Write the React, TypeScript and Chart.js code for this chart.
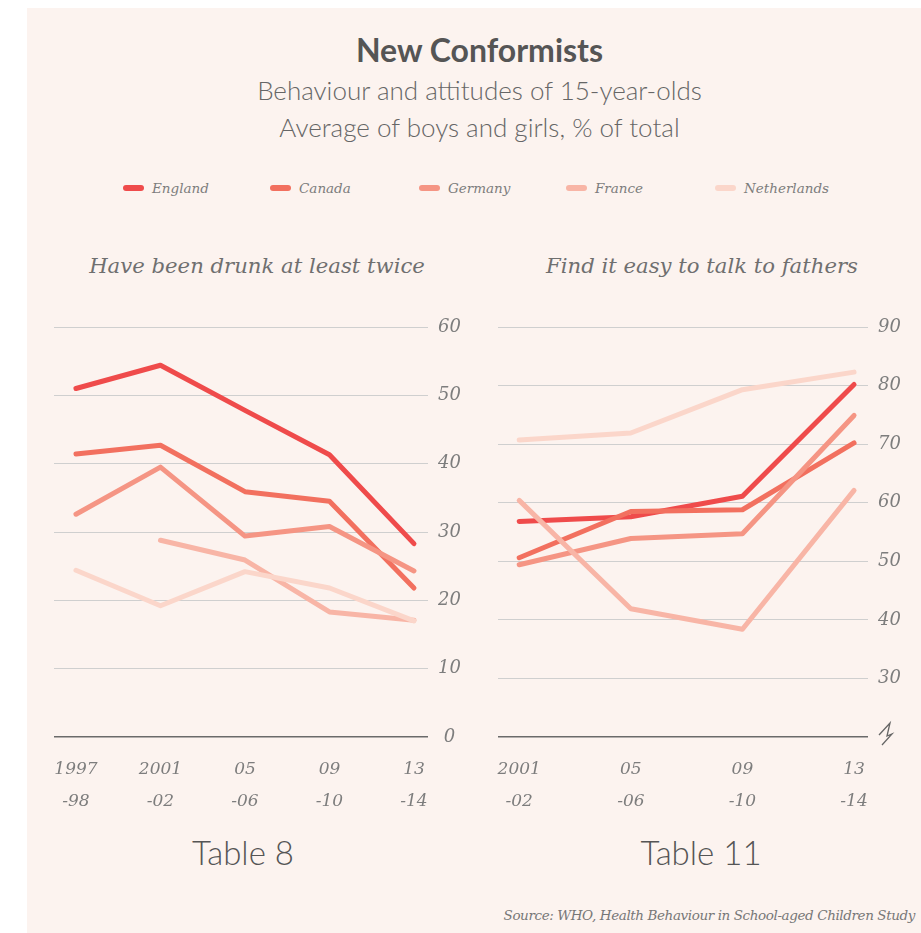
import React, { useEffect, useRef } from 'react';
import { Chart, registerables } from 'chart.js';

Chart.register(...registerables);

// ---------- data ----------
const seriesNames = ['England', 'Canada', 'Germany', 'France', 'Netherlands'];
const seriesColors = ['#ef4b4b', '#f2705f', '#f59584', '#f8b5a6', '#fbd6ca'];

// Table 8: Have been drunk at least twice (%)
const drunkLabels = [['1997', '-98'], ['2001', '-02'], ['05', '-06'], ['09', '-10'], ['13', '-14']];
const drunkEngland = [51.0, 54.4, 47.8, 41.3, 28.3];
const drunkCanada = [41.4, 42.7, 35.9, 34.5, 21.8];
const drunkGermany = [32.6, 39.5, 29.4, 30.8, 24.3];
const drunkFrance = [null, 28.8, 25.9, 18.3, 17.1];
const drunkNetherlands = [24.4, 19.2, 24.2, 21.8, 17.0];
const drunkTicks = [0, 10, 20, 30, 40, 50, 60];

// Table 11: Find it easy to talk to fathers (%)
const fathersLabels = [['2001', '-02'], ['05', '-06'], ['09', '-10'], ['13', '-14']];
const fathersEngland = [56.8, 57.6, 61.1, 80.2];
const fathersCanada = [50.6, 58.5, 58.8, 70.2];
const fathersGermany = [49.4, 53.9, 54.7, 74.9];
const fathersFrance = [60.4, 41.9, 38.4, 62.1];
const fathersNetherlands = [70.7, 71.9, 79.3, 82.3];
const fathersTicks = [20, 30, 40, 50, 60, 70, 80, 90];

const LABEL_FONT = '"DejaVu Serif", serif';
const SANS_FONT = 'Lato, "Open Sans", sans-serif';
const LABEL_COLOR = '#7d7d7d';

type PanelProps = {
  labels: string[][];
  series: (number | null)[][];
  yTicks: number[];
  xMin: number;
  xMax: number;
  axisWidth: number;
  breakAtMin: boolean;
  width: number;
  height: number;
};

function LinePanel(props: PanelProps) {
  const ref = useRef<HTMLCanvasElement | null>(null);
  useEffect(() => {
    const canvas = ref.current;
    if (!canvas) return;
    const { labels, series, yTicks, xMin, xMax, axisWidth, breakAtMin } = props;
    const yMin = yTicks[0];
    const yMax = yTicks[yTicks.length - 1];

    const breakPlugin = {
      id: 'axisBreak',
      afterDraw(chart: any) {
        if (!breakAtMin) return;
        const c = chart.ctx;
        const y = chart.scales.y.getPixelForValue(yMin);
        const x = chart.chartArea.right + 11;
        c.save();
        c.strokeStyle = '#666';
        c.lineWidth = 1.3;
        c.lineJoin = 'miter';
        c.beginPath();
        c.moveTo(x, y - 2);
        c.lineTo(x + 11, y - 14);
        c.lineTo(x + 8, y - 1);
        c.lineTo(x + 13, y - 3);
        c.lineTo(x + 3, y + 8);
        c.stroke();
        c.restore();
      },
    };

    const chart = new Chart(canvas, {
      type: 'line',
      data: {
        datasets: series.map((vals, i) => ({
          label: seriesNames[i],
          data: vals.map((v, j) => ({ x: j, y: v })),
          borderColor: seriesColors[i],
          backgroundColor: seriesColors[i],
          borderWidth: 5,
          borderCapStyle: 'round',
          borderJoinStyle: 'round',
          pointRadius: 0,
          pointHoverRadius: 0,
          tension: 0,
          spanGaps: false,
          order: series.length - 1 - i,
        })),
      },
      options: {
        animation: false,
        responsive: false,
        maintainAspectRatio: false,
        layout: { padding: { left: 14, top: 17, right: 0, bottom: 0 } },
        plugins: { legend: { display: false }, tooltip: { enabled: false } },
        scales: {
          x: {
            type: 'linear',
            min: xMin,
            max: xMax,
            grid: { display: false, drawTicks: false },
            border: { display: false },
            afterBuildTicks: (s: any) => {
              s.ticks = labels.map((_, i) => ({ value: i }));
            },
            afterFit: (s: any) => {
              s.height = 80;
              s.paddingLeft = 0;
              s.paddingRight = 0;
            },
            ticks: {
              autoSkip: false,
              maxRotation: 0,
              minRotation: 0,
              padding: 17,
              color: LABEL_COLOR,
              font: { family: LABEL_FONT, style: 'italic', size: 17, lineHeight: '32px' },
              callback: (v: any) => labels[Math.round(v)] ?? '',
            },
          },
          y: {
            position: 'right',
            min: yMin,
            max: yMax,
            afterBuildTicks: (s: any) => {
              s.ticks = yTicks.map((v) => ({ value: v }));
            },
            afterFit: (s: any) => {
              s.width = axisWidth;
              s.paddingTop = 0;
              s.paddingBottom = 0;
            },
            grid: {
              drawTicks: false,
              color: (ctx: any) => (ctx.tick && ctx.tick.value === yMin ? '#6a6a6a' : '#cfcfcf'),
              lineWidth: (ctx: any) => (ctx.tick && ctx.tick.value === yMin ? 1.5 : 1),
            },
            border: { display: false },
            ticks: {
              padding: 10,
              crossAlign: 'center',
              color: LABEL_COLOR,
              font: { family: LABEL_FONT, style: 'italic', size: 18 },
              callback: (v: any) => (breakAtMin && v === yMin ? '' : String(v)),
            },
          },
        },
      },
      plugins: [breakPlugin],
    } as any);
    return () => chart.destroy();
  }, []);
  return (
    <canvas
      ref={ref}
      width={props.width}
      height={props.height}
      style={{ width: props.width, height: props.height, display: 'block' }}
    />
  );
}

function Text(p: { x: number; y: number; align: 'center' | 'left' | 'right'; style: React.CSSProperties; children: React.ReactNode }) {
  const w = 700;
  const left = p.align === 'center' ? p.x - w / 2 : p.align === 'left' ? p.x : p.x - w;
  return (
    <div
      style={{
        position: 'absolute',
        left,
        top: p.y - 20,
        width: w,
        height: 40,
        lineHeight: '40px',
        textAlign: p.align,
        whiteSpace: 'nowrap',
        ...p.style,
      }}
    >
      {p.children}
    </div>
  );
}

const legendX = [123, 270, 419, 566, 715];

export default function App() {
  return (
    <div style={{ position: 'absolute', left: 0, top: 0, width: 921, height: 933, background: '#ffffff', overflow: 'hidden' }}>
      <div style={{ position: 'absolute', left: 27, top: 8, width: 894, height: 925, background: '#fcf3ef' }} />
      <Text x={479.5} y={50} align="center" style={{ fontFamily: SANS_FONT, fontWeight: 700, fontSize: 32, color: '#555' }}>
        New Conformists
      </Text>
      <Text x={479.5} y={90} align="center" style={{ fontFamily: SANS_FONT, fontWeight: 300, fontSize: 26, color: '#666' }}>
        Behaviour and attitudes of 15-year-olds
      </Text>
      <Text x={479.5} y={127} align="center" style={{ fontFamily: SANS_FONT, fontWeight: 300, fontSize: 26, color: '#666' }}>
        Average of boys and girls, % of total
      </Text>

      {seriesNames.map((name, i) => (
        <React.Fragment key={name}>
          <div
            style={{
              position: 'absolute',
              left: legendX[i],
              top: 185,
              width: 21,
              height: 6,
              borderRadius: 3,
              background: seriesColors[i],
            }}
          />
          <Text x={legendX[i] + 29} y={188} align="left" style={{ fontFamily: LABEL_FONT, fontStyle: 'italic', fontSize: 13.5, color: LABEL_COLOR }}>
            {name}
          </Text>
        </React.Fragment>
      ))}

      <Text x={257} y={266} align="center" style={{ fontFamily: LABEL_FONT, fontStyle: 'italic', fontSize: 21.2, color: '#6f6f6f' }}>
        Have been drunk at least twice
      </Text>
      <Text x={702} y={266} align="center" style={{ fontFamily: LABEL_FONT, fontStyle: 'italic', fontSize: 21.2, color: '#6f6f6f' }}>
        Find it easy to talk to fathers
      </Text>

      <div style={{ position: 'absolute', left: 40, top: 310 }}>
        <LinePanel
          labels={drunkLabels}
          series={[drunkEngland, drunkCanada, drunkGermany, drunkFrance, drunkNetherlands]}
          yTicks={drunkTicks}
          xMin={-0.26}
          xMax={4.166}
          axisWidth={52}
          breakAtMin={false}
          width={440}
          height={507}
        />
      </div>
      <div style={{ position: 'absolute', left: 484, top: 310 }}>
        <LinePanel
          labels={fathersLabels}
          series={[fathersEngland, fathersCanada, fathersGermany, fathersFrance, fathersNetherlands]}
          yTicks={fathersTicks}
          xMin={-0.19}
          xMax={3.125}
          axisWidth={53}
          breakAtMin={true}
          width={437}
          height={507}
        />
      </div>

      <Text x={243} y={852} align="center" style={{ fontFamily: SANS_FONT, fontWeight: 300, fontSize: 33, color: '#555' }}>
        Table 8
      </Text>
      <Text x={701} y={852} align="center" style={{ fontFamily: SANS_FONT, fontWeight: 300, fontSize: 33, color: '#555' }}>
        Table 11
      </Text>
      <Text x={915} y={915} align="right" style={{ fontFamily: LABEL_FONT, fontStyle: 'italic', fontSize: 13.5, letterSpacing: -0.4, color: '#777' }}>
        Source: WHO, Health Behaviour in School-aged Children Study
      </Text>
    </div>
  );
}
